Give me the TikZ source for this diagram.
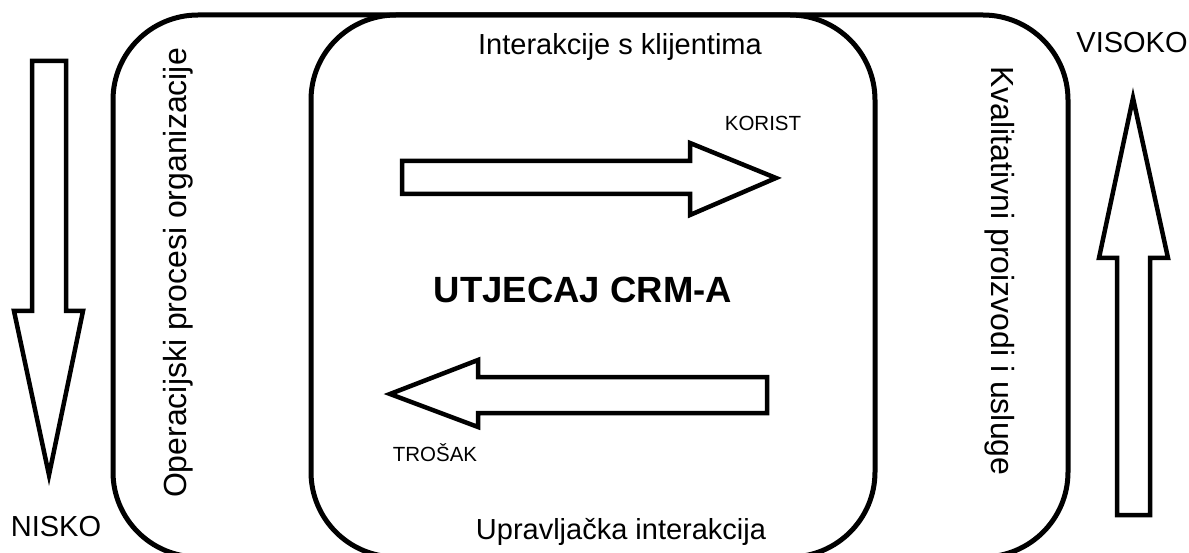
\documentclass[tikz,border=0pt]{standalone}
\usepackage{fontspec}
\setmainfont{Liberation Sans}
\begin{document}
\begin{tikzpicture}[x=1pt,y=-1pt,
  frame/.style={line width=5pt, rounded corners=85pt},
  bigarrow/.style={line width=4.5pt, line join=miter, miter limit=12},
  lbl/.style={inner sep=0pt, font=\fontsize{29}{34}\selectfont},
  vlbl/.style={inner sep=0pt, font=\fontsize{32}{38}\selectfont},
  small/.style={inner sep=0pt, font=\fontsize{20.5}{24}\selectfont},
  titlefont/.style={inner sep=0pt, font=\bfseries\fontsize{36.5}{42}\selectfont},
]
\useasboundingbox (0,0) rectangle (1189,553);
\clip (0,0) rectangle (1189,553);
% frames
\draw[frame] (113,15) rectangle (1068,557);
\draw[frame] (311,15) rectangle (875,557);
% down arrow (left)
\draw[bigarrow] (32,61) -- (66,61) -- (66,311) -- (83,311) -- (49,475) -- (14,311) -- (32,311) -- cycle;
% up arrow (right)
\draw[bigarrow] (1117,515) -- (1150,515) -- (1150,258) -- (1168,258) -- (1133,98) -- (1099,258) -- (1117,258) -- cycle;
% KORIST arrow
\draw[bigarrow] (402,161) -- (690,161) -- (690,143) -- (776,178) -- (690,215) -- (690,194) -- (402,194) -- cycle;
% TROSAK arrow
\draw[bigarrow] (767,377) -- (478,377) -- (478,360) -- (390,394) -- (478,427) -- (478,413) -- (767,413) -- cycle;
% texts
\node[lbl] (top) at (620,47) {Interakcije s klijentima};
\node[lbl] (bottom) at (621,532) {Upravljačka interakcija};
\node[small] (korist) at (763,123) {KORIST};
\node[small] (trosak) at (435,453) {TROŠAK};
\node[titlefont] (title) at (583,290) {UTJECAJ CRM-A};
\node[vlbl, rotate=90] (left) at (178,273) {Operacijski procesi organizacije};
\node[vlbl, rotate=-90] (right) at (1000,271) {Kvalitativni proizvodi i usluge};
\node[lbl] (visoko) at (1132,43) {VISOKO};
\node[lbl] (nisko) at (56,527) {NISKO};
\end{tikzpicture}
\end{document}
